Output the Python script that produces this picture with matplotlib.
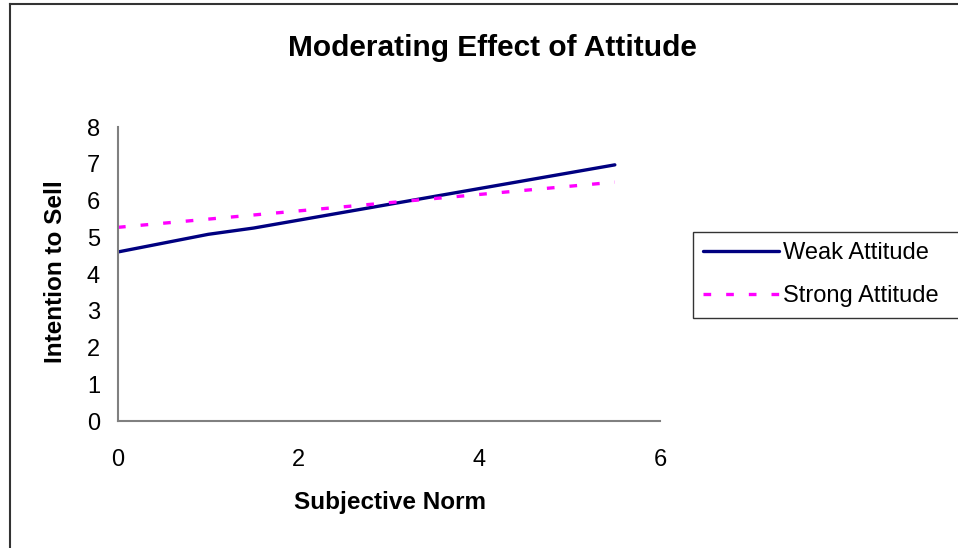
import matplotlib.pyplot as plt
from matplotlib.lines import Line2D

plt.rcParams['font.family'] = ['Liberation Sans', 'DejaVu Sans']

# simple slopes of intention to sell on subjective norm
weak_x = [0, 1, 1.5, 5.5]
weak_y = [4.6, 5.08, 5.25, 6.97]
strong_x = [0, 5.5]
strong_y = [5.27, 6.5]

x_ticks = [0, 2, 4, 6]
y_ticks = [0, 1, 2, 3, 4, 5, 6, 7, 8]

fig = plt.figure(figsize=(9.58, 5.48), dpi=100)
ax = fig.add_axes([118 / 958, 1 - 421 / 548, 542 / 958, 294 / 548])

ax.plot(weak_x, weak_y, color='#000080', linewidth=2.4,
        solid_capstyle='round', label='Weak Attitude')
ax.plot(strong_x, strong_y, color='#FF00FF', linewidth=2.4,
        linestyle=(0, (2.3, 4.5)), dash_capstyle='butt', label='Strong Attitude')

ax.set_xlim(0, 6)
ax.set_ylim(0, 8)
ax.set_xticks(x_ticks)
ax.set_yticks(y_ticks)
ax.tick_params(length=0, labelsize=17)
ax.tick_params(axis='x', pad=20)
ax.tick_params(axis='y', pad=13)
for side in ['top', 'right']:
    ax.spines[side].set_visible(False)
for side in ['left', 'bottom']:
    ax.spines[side].set_color('#808080')
    ax.spines[side].set_linewidth(1.5)

ax.set_xlabel('Subjective Norm', fontsize=17.5, fontweight='bold')
ax.set_ylabel('Intention to Sell', fontsize=17.5, fontweight='bold')
ax.xaxis.label.set_va('center')
ax.yaxis.label.set_va('center')
ax.xaxis.set_label_coords((390 - 118) / 542, (421 - 503) / 294)
ax.yaxis.set_label_coords((56 - 118) / 542, (421 - 272) / 294)

fig.text(0.5 * (277 + 708) / 958, 1 - 48 / 548, 'Moderating Effect of Attitude',
         ha='center', va='center', fontsize=21.5, fontweight='bold')

# legend box runs off the right edge of the chart area
leg = ax.legend(loc='upper left',
                bbox_to_anchor=(693 / 958, 1 - 318 / 548, 300 / 958, 86 / 548),
                bbox_transform=fig.transFigure, mode='expand', fontsize=17,
                frameon=True, fancybox=False, borderpad=0.43, handlelength=3.2,
                handletextpad=0.2, labelspacing=0.9, borderaxespad=0)
leg.get_frame().set_edgecolor('#000000')
leg.get_frame().set_linewidth(1.0)

# chart area border, open on the right and bottom
fig.add_artist(Line2D([10 / 958, 10 / 958], [0, 1 - 4 / 548], color='#333333',
                      linewidth=1.5, transform=fig.transFigure))
fig.add_artist(Line2D([10 / 958, 1], [1 - 4 / 548, 1 - 4 / 548], color='#333333',
                      linewidth=1.5, transform=fig.transFigure))

fig.savefig('out.png', dpi=100)
